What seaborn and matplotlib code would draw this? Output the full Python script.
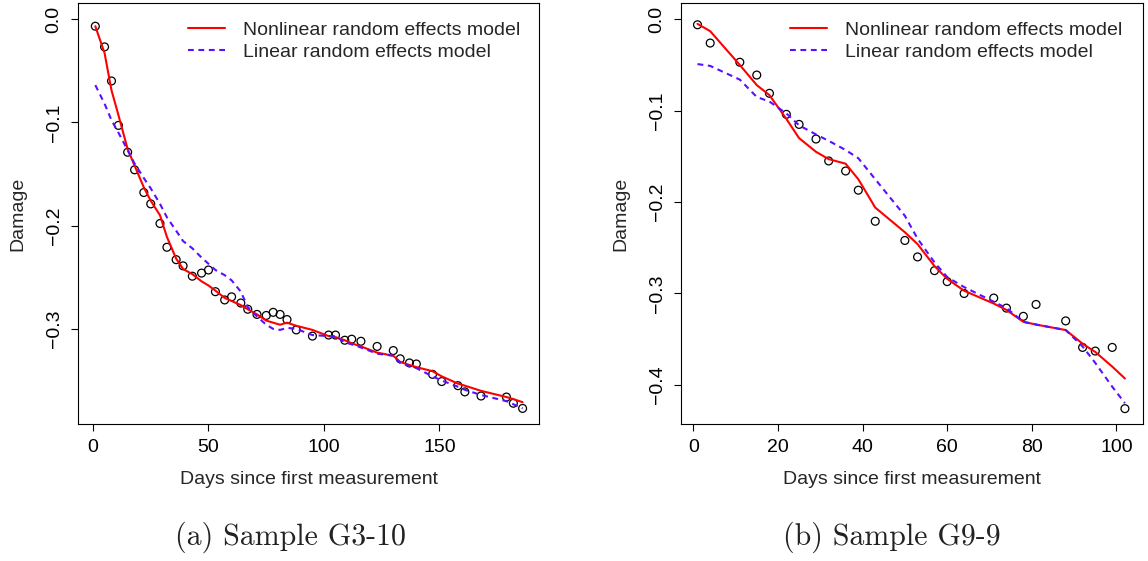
import matplotlib
matplotlib.use("Agg")
import matplotlib.pyplot as plt
import seaborn as sns

# ---------------- data: Sample G3-10 ----------------
days_a = [1, 5, 8, 11, 15, 18, 22, 25, 29, 32, 36, 39, 43, 47, 50, 53, 57, 60, 64, 67,
          71, 75, 78, 81, 84, 88, 95, 102, 105, 109, 112, 116, 123, 130, 133, 137, 140,
          147, 151, 158, 161, 168, 179, 182, 186]
obs_a = [-0.007, -0.027, -0.060, -0.103, -0.129, -0.146, -0.168, -0.179, -0.198, -0.221,
         -0.233, -0.239, -0.249, -0.246, -0.243, -0.264, -0.272, -0.269, -0.275, -0.281,
         -0.286, -0.287, -0.284, -0.286, -0.291, -0.301, -0.307, -0.306, -0.306, -0.311,
         -0.310, -0.312, -0.317, -0.321, -0.329, -0.333, -0.334, -0.344, -0.351, -0.355,
         -0.361, -0.365, -0.366, -0.372, -0.377]
nonlin_a = [-0.007, -0.033, -0.069, -0.093, -0.126, -0.142, -0.163, -0.176, -0.190, -0.211,
            -0.232, -0.242, -0.247, -0.254, -0.258, -0.263, -0.270, -0.273, -0.277, -0.281,
            -0.286, -0.292, -0.294, -0.296, -0.294, -0.297, -0.301, -0.307, -0.308, -0.311,
            -0.314, -0.317, -0.323, -0.326, -0.332, -0.335, -0.337, -0.341, -0.346, -0.353,
            -0.355, -0.360, -0.366, -0.368, -0.371]
lin_a = [-0.064, -0.082, -0.098, -0.110, -0.127, -0.140, -0.154, -0.164, -0.179, -0.192,
         -0.205, -0.215, -0.222, -0.231, -0.237, -0.243, -0.248, -0.253, -0.264, -0.279,
         -0.288, -0.296, -0.300, -0.301, -0.299, -0.300, -0.306, -0.307, -0.307, -0.313,
         -0.315, -0.318, -0.324, -0.326, -0.333, -0.336, -0.338, -0.346, -0.350, -0.356,
         -0.359, -0.364, -0.370, -0.373, -0.377]

# ---------------- data: Sample G9-9 ----------------
days_b = [1, 4, 11, 15, 18, 22, 25, 29, 32, 36, 39, 43, 50, 53, 57, 60, 64, 71, 74, 78,
          81, 88, 92, 95, 99, 102]
obs_b = [-0.006, -0.026, -0.047, -0.061, -0.081, -0.104, -0.115, -0.131, -0.155, -0.166,
         -0.187, -0.221, -0.242, -0.260, -0.275, -0.287, -0.300, -0.305, -0.316, -0.325,
         -0.312, -0.330, -0.359, -0.363, -0.359, -0.426]
nonlin_b = [-0.005, -0.013, -0.050, -0.072, -0.083, -0.109, -0.130, -0.145, -0.153, -0.158,
            -0.175, -0.206, -0.233, -0.246, -0.270, -0.284, -0.297, -0.311, -0.318, -0.331,
            -0.334, -0.340, -0.355, -0.364, -0.380, -0.393]
lin_b = [-0.049, -0.051, -0.066, -0.085, -0.090, -0.103, -0.116, -0.126, -0.133, -0.143,
         -0.152, -0.175, -0.215, -0.240, -0.266, -0.282, -0.293, -0.309, -0.316, -0.331,
         -0.334, -0.340, -0.358, -0.376, -0.402, -0.420]

xticks_a = [0, 50, 100, 150]
yticks_a = [0.0, -0.1, -0.2, -0.3]
xticks_b = [0, 20, 40, 60, 80, 100]
yticks_b = [0.0, -0.1, -0.2, -0.3, -0.4]

label_nl = "Nonlinear random effects model"
label_lin = "Linear random effects model"
xlabel = "Days since first measurement"
ylabel = "Damage"
captions = ["(a) Sample G3-10", "(b) Sample G9-9"]

# ---------------- style ----------------
sns.set_theme(style="white")
plt.rcParams["font.family"] = ["Liberation Sans", "DejaVu Sans"]
plt.rcParams.update({
    "axes.edgecolor": "black",
    "axes.linewidth": 0.8,
    "xtick.bottom": True,
    "ytick.left": True,
    "xtick.direction": "out",
    "ytick.direction": "out",
    "xtick.major.size": 5,
    "ytick.major.size": 5,
    "xtick.major.width": 0.8,
    "ytick.major.width": 0.8,
    "xtick.color": "black",
    "ytick.color": "black",
    "xtick.labelsize": 14,
    "ytick.labelsize": 14,
    "xtick.major.pad": 5.5,
    "ytick.major.pad": 6,
})

RED = "#ff0000"
BLUE = "#5a10ff"
FS = 14

W, H = 1148, 561
fig = plt.figure(figsize=(W / 100, H / 100), dpi=100)
top_px, bot_px = 3.3, 424
axA = fig.add_axes([78 / W, 1 - bot_px / H, (539 - 78) / W, (bot_px - top_px) / H])
axB = fig.add_axes([681 / W, 1 - bot_px / H, (1142.7 - 681) / W, (bot_px - top_px) / H])


def fmt(v):
    s = f"{abs(v):.1f}"
    return ("\u2212" + s) if v < 0 else s


def panel(ax, days, obs, nl, lin, xlim, ylim, xt, yt, legx, ylab_x):
    sns.scatterplot(x=days, y=obs, ax=ax, marker="o", s=32, facecolors="none",
                    edgecolors="black", linewidth=0.9, legend=False, zorder=2)
    sns.lineplot(x=days, y=nl, ax=ax, color=RED, lw=1.5, label=label_nl, zorder=3)
    sns.lineplot(x=days, y=lin, ax=ax, color=BLUE, lw=1.5,
                 linestyle=(0, (2.8, 2.2)), label=label_lin, zorder=3)
    ax.set_xlim(*xlim)
    ax.set_ylim(*ylim)
    ax.set_xticks(xt)
    ax.set_xticklabels([str(t) for t in xt])
    ax.set_yticks(yt)
    ax.set_yticklabels([fmt(t) for t in yt], rotation=90, va="center")
    for s in ax.spines.values():
        s.set_visible(True)
        s.set_color("black")
        s.set_linewidth(0.8)
    ax.set_xlabel(xlabel, fontsize=FS, va="center")
    ax.xaxis.set_label_coords(0.5, -(480 - bot_px) / (bot_px - top_px))
    ax.set_ylabel(ylabel, fontsize=FS, va="center")
    ax.yaxis.set_label_coords(ylab_x, 0.5)
    ax.legend(loc="upper left", bbox_to_anchor=(legx, 0.957), frameon=False,
              fontsize=FS, handlelength=1.9, handletextpad=0.95, labelspacing=0.2,
              borderpad=0, borderaxespad=0)


panel(axA, days_a, obs_a, nonlin_a, lin_a, (-6.5, 193.1), (-0.3921, 0.0152),
      xticks_a, yticks_a, (188 - 78) / 461, (17.5 - 78) / 461)
panel(axB, days_b, obs_b, nonlin_b, lin_b, (-2.9, 106.2), (-0.4428, 0.0175),
      xticks_b, yticks_b, (790 - 681) / 461.7, (621 - 681) / 461.7)

fig.text(290 / W, 1 - 537 / H, captions[0], family="cmr10", fontsize=21.5,
         ha="center", va="center", color="#222222")
fig.text(892 / W, 1 - 537 / H, captions[1], family="cmr10", fontsize=21.5,
         ha="center", va="center", color="#222222")

fig.savefig("out.png", dpi=100)
